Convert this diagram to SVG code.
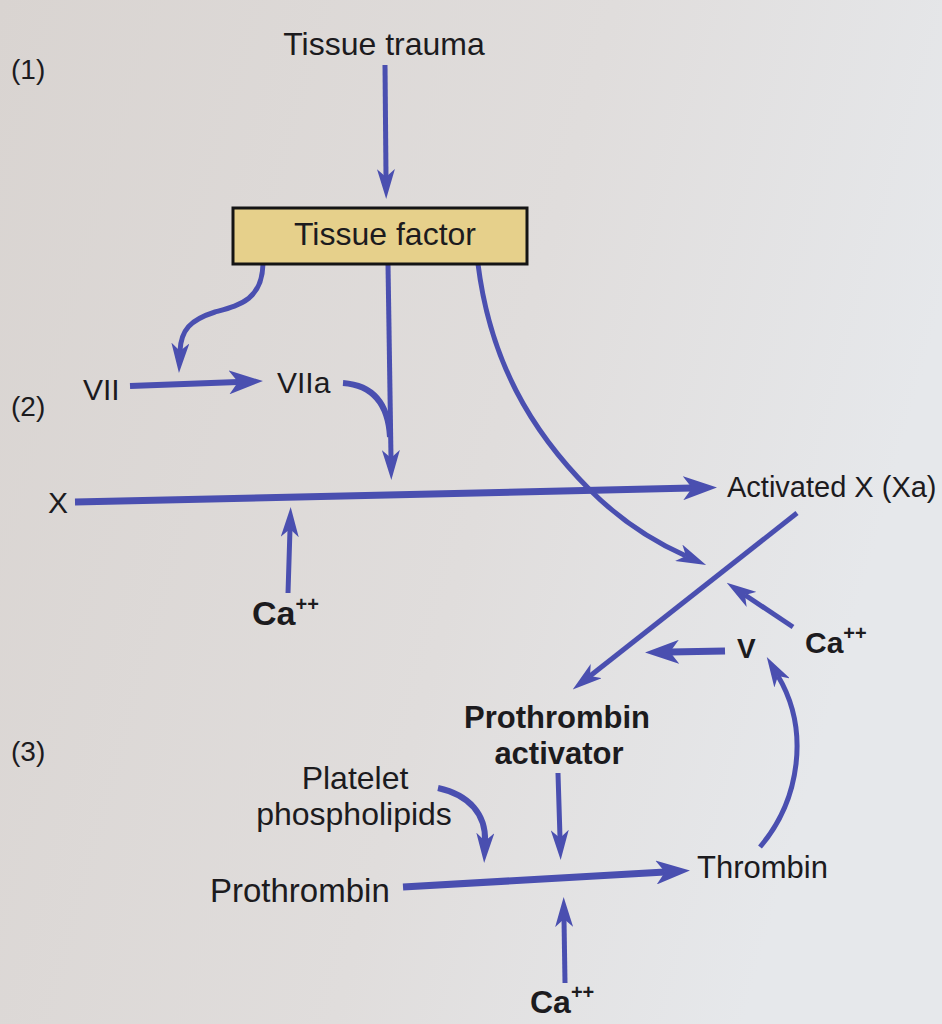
<svg xmlns="http://www.w3.org/2000/svg" width="942" height="1024" viewBox="0 0 942 1024">
  <defs>
    <linearGradient id="bg" x1="0" y1="0" x2="1" y2="0.3">
      <stop offset="0" stop-color="#d9d4d1"/>
      <stop offset="0.6" stop-color="#e0dddc"/>
      <stop offset="1" stop-color="#e6e8eb"/>
    </linearGradient>
    <marker id="big" viewBox="0 0 34 24" markerWidth="34" markerHeight="24" refX="9" refY="12" orient="auto" markerUnits="userSpaceOnUse">
      <path d="M0,0 L34,12 L0,24 L9,12 Z" fill="#4a4fb0"/>
    </marker>
    <marker id="small" viewBox="0 0 30 18" markerWidth="30" markerHeight="18" refX="8" refY="9" orient="auto" markerUnits="userSpaceOnUse">
      <path d="M0,0 L30,9 L0,18 L8,9 Z" fill="#4a4fb0"/>
    </marker>
  </defs>
  <style>
    text { font-family: "Liberation Sans", Arial, sans-serif; fill: #1c1b1e; }
    .b { font-weight: bold; }
    .c { text-anchor: middle; }
    .thin { fill: none; stroke: #4a4fb0; stroke-width: 5; marker-end: url(#small); }
    .thick { fill: none; stroke: #4a4fb0; stroke-width: 7; marker-end: url(#big); }
    .plain { fill: none; stroke: #4a4fb0; stroke-width: 6; }
    .sup { font-size: 20px; }
  </style>
  <rect x="0" y="0" width="942" height="1024" fill="url(#bg)"/>

  <g id="connectors">
    <path class="thin" d="M385,65 L386,177"/>
    <path class="thin" d="M263,264 C262,300 240,305 215,312 C190,320 181,330 180,351"/>
    <path class="thin" d="M388,264 L391,458"/>
    <path class="thin" d="M478,264 C490,360 530,430 590,490 C620,520 650,540 686,556"/>
    <path class="thick" style="stroke-width:6" d="M130,386 L238,382"/>
    <path class="plain" d="M343,383 C370,385 388,400 390,437"/>
    <path class="thick" d="M75,502 L692,488"/>
    <path class="thin" d="M288,593 L290,529"/>
    <path class="thin" d="M797,513 L590,676"/>
    <path class="thin" d="M793,627 L745,595"/>
    <path class="thick" d="M725,651 L670,652"/>
    <path class="thin" d="M760,847 C800,800 810,730 778,676"/>
    <path class="thin" style="stroke-width:6" d="M438,788 C470,795 486,815 485,841"/>
    <path class="thin" d="M558,773 L560,838"/>
    <path class="thick" d="M403,887 L665,872"/>
    <path class="thin" d="M565,983 L564,919"/>
  </g>

  <g id="label-1"><text x="11" y="79" font-size="28">(1)</text></g>
  <g id="label-2"><text x="11" y="416" font-size="28">(2)</text></g>
  <g id="label-3"><text x="11" y="761" font-size="28">(3)</text></g>

  <g id="tissue-trauma"><text class="c" x="384" y="55" font-size="32">Tissue trauma</text></g>
  <g id="tissue-factor">
    <rect x="233" y="208" width="294" height="56" fill="#e6d08b" stroke="#141414" stroke-width="3"/>
    <text class="c" x="385" y="245" font-size="32">Tissue factor</text>
  </g>
  <g id="vii"><text x="83" y="400" font-size="30">VII</text></g>
  <g id="viia"><text x="277" y="393" font-size="30">VIIa</text></g>
  <g id="x"><text x="48" y="513" font-size="30">X</text></g>
  <g id="xa"><text x="727" y="497" font-size="29">Activated X (Xa)</text></g>
  <g id="ca-1"><text class="b" x="252" y="625" font-size="34">Ca<tspan class="sup" dy="-14">++</tspan></text></g>
  <g id="ca-2"><text class="b" x="805" y="653" font-size="30">Ca<tspan class="sup" dy="-13">++</tspan></text></g>
  <g id="v"><text class="b" x="737" y="658" font-size="28">V</text></g>
  <g id="prothrombin-activator">
    <text class="b c" x="557" y="728" font-size="31">Prothrombin</text>
    <text class="b c" x="559" y="764" font-size="31">activator</text>
  </g>
  <g id="platelet-phospholipids">
    <text class="c" x="355" y="789" font-size="32">Platelet</text>
    <text class="c" x="354" y="825" font-size="32">phospholipids</text>
  </g>
  <g id="prothrombin"><text x="210" y="902" font-size="33">Prothrombin</text></g>
  <g id="thrombin"><text x="697" y="878" font-size="31">Thrombin</text></g>
  <g id="ca-3"><text class="b" x="530" y="1013" font-size="32">Ca<tspan class="sup" dy="-14">++</tspan></text></g>
</svg>
